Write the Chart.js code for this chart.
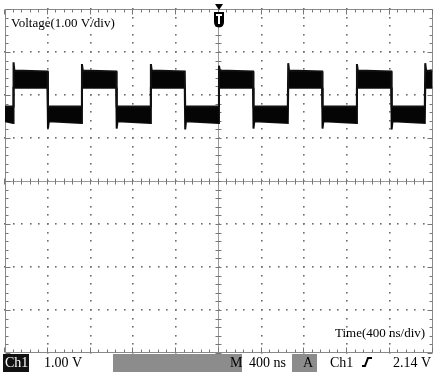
<!DOCTYPE html>
<html><head><meta charset="utf-8">
<script src="https://cdn.jsdelivr.net/npm/chart.js@4/dist/chart.umd.min.js"></script>
<style>html,body{margin:0;padding:0;background:#fff;overflow:hidden}canvas{display:block}</style>
</head><body>
<canvas id="c" width="433" height="372"></canvas>
<script>
// ---- data ----
// time of each trace vertex (ns, trigger at 0)
const timeNs = [-2000,
  -1924,-1920,-1912, -1602,-1598,-1590,
  -1284,-1280,-1272, -959,-955,-947,
  -639,-635,-627, -318,-314,-306,
  -2,2,10, 321,325,333,
  646,650,658, 967,971,979,
  1289,1293,1301, 1614,1618,1626,
  1928,1932,1940, 2000];
// upper edge of the noisy trace band (V)
const upperV = [1.73,
  1.73,2.76,2.57, 2.55,1.73,1.73,
  1.73,2.72,2.57, 2.55,1.73,1.73,
  1.73,2.72,2.57, 2.55,1.73,1.73,
  1.73,2.68,2.57, 2.55,1.73,1.73,
  1.73,2.74,2.57, 2.55,1.73,1.73,
  1.73,2.72,2.57, 2.55,1.73,1.73,
  1.73,2.74,2.57, 2.55];
// lower edge of the noisy trace band (V)
const lowerV = [1.39,
  1.35,2.17,2.17, 2.17,1.22,1.39,
  1.35,2.17,2.17, 2.17,1.22,1.39,
  1.35,2.17,2.17, 2.17,1.20,1.39,
  1.35,2.17,2.17, 2.17,1.22,1.39,
  1.35,2.17,2.17, 2.17,1.22,1.39,
  1.35,2.17,2.17, 2.17,1.20,1.39,
  1.35,2.17,2.17, 2.17];
// graticule divisions
const xDivNs = [-2000,-1600,-1200,-800,-400,0,400,800,1200,1600,2000];
const yDivV = [-4,-3,-2,-1,0,1,2,3,4];
const minorPerDiv = 5;
// texts
const voltageLabel = "Voltage(1.00 V/div)";
const timeLabel = "Time(400 ns/div)";
const statusCh = "Ch1";
const statusVolts = "1.00 V";
const statusM = "M";
const statusTime = "400 ns";
const statusA = "A";
const statusTrigCh = "Ch1";
const statusTrigLevel = "2.14 V";

const upperPts = timeNs.map((t,i)=>({x:t,y:upperV[i]}));
const lowerPts = timeNs.map((t,i)=>({x:t,y:lowerV[i]}));

const graticule = {
  id:'graticule',
  beforeDatasetsDraw(chart){
    const ctx = chart.ctx, xs = chart.scales.x, ys = chart.scales.y;
    const xMin = xDivNs[0], xMax = xDivNs[xDivNs.length-1];
    const yMin = yDivV[0], yMax = yDivV[yDivV.length-1];
    const xStep = (xDivNs[1]-xDivNs[0])/minorPerDiv, yStep = (yDivV[1]-yDivV[0])/minorPerDiv;
    const nx = (xDivNs.length-1)*minorPerDiv, ny = (yDivV.length-1)*minorPerDiv;
    ctx.save();
    ctx.fillStyle = '#6e6e6e';
    for (const t of xDivNs){
      if (t===xMin||t===xMax||t===0) continue;
      const px = Math.round(xs.getPixelForValue(t));
      for (let k=0;k<=ny;k++){ const py=Math.round(ys.getPixelForValue(yMin+k*yStep)); ctx.fillRect(px-1,py-1,1.6,1.6); }
    }
    for (const v of yDivV){
      if (v===yMin||v===yMax||v===0) continue;
      const py = Math.round(ys.getPixelForValue(v));
      for (let k=0;k<=nx;k++){ const px=Math.round(xs.getPixelForValue(xMin+k*xStep)); ctx.fillRect(px-1,py-1,1.6,1.6); }
    }
    ctx.strokeStyle = '#9a9a9a'; ctx.lineWidth = 1;
    const cx = Math.round(xs.getPixelForValue(0))-0.5, cy = Math.round(ys.getPixelForValue(0))+0.5;
    const L = chart.chartArea.left, R = chart.chartArea.right, T = chart.chartArea.top, B = chart.chartArea.bottom;
    ctx.beginPath(); ctx.moveTo(L,cy); ctx.lineTo(R,cy); ctx.moveTo(cx,T); ctx.lineTo(cx,B); ctx.stroke();
    ctx.strokeStyle = '#777';
    ctx.beginPath();
    for (let k=0;k<=nx;k++){ const px=Math.round(xs.getPixelForValue(xMin+k*xStep))-0.5; ctx.moveTo(px,cy-3); ctx.lineTo(px,cy+3); }
    for (let k=0;k<=ny;k++){ const py=Math.round(ys.getPixelForValue(yMin+k*yStep))+0.5; ctx.moveTo(cx-3,py); ctx.lineTo(cx+3,py); }
    ctx.stroke();
    const top = Math.round(T)+0.5, bot = Math.round(B)-0.5, lef = Math.round(L)+0.5, rig = Math.round(R)-0.5;
    ctx.strokeStyle = '#8a8a8a';
    ctx.beginPath(); ctx.moveTo(lef,top); ctx.lineTo(rig,top); ctx.lineTo(rig,bot); ctx.lineTo(lef,bot); ctx.closePath(); ctx.stroke();
    ctx.strokeStyle = '#777';
    ctx.beginPath();
    for (let k=0;k<=nx;k++){ const px=Math.round(xs.getPixelForValue(xMin+k*xStep))-0.5; const len = (k%minorPerDiv===0)?5:3;
      ctx.moveTo(px,top); ctx.lineTo(px,top+len); ctx.moveTo(px,bot); ctx.lineTo(px,bot-len); }
    for (let k=0;k<=ny;k++){ const py=Math.round(ys.getPixelForValue(yMin+k*yStep))+0.5; const len = (k%minorPerDiv===0)?5:3;
      ctx.moveTo(lef,py); ctx.lineTo(lef+len,py); ctx.moveTo(rig,py); ctx.lineTo(rig-len,py); }
    ctx.stroke();
    ctx.restore();
  },
  afterDraw(chart){
    const ctx = chart.ctx, xs = chart.scales.x;
    const W = chart.width, H = chart.height;
    ctx.save();
    ctx.fillStyle = '#000';
    ctx.font = '13px "Liberation Serif", "Times New Roman", serif';
    ctx.textBaseline = 'alphabetic'; ctx.textAlign = 'left';
    ctx.fillText(voltageLabel, 11, 27);
    ctx.fillText(timeLabel, 335, 337);
    const tx = Math.round(xs.getPixelForValue(0));
    ctx.fillStyle = '#000';
    ctx.beginPath(); ctx.moveTo(tx-4,4); ctx.lineTo(tx+4,4); ctx.lineTo(tx,10); ctx.closePath(); ctx.fill();
    ctx.beginPath();
    ctx.moveTo(tx-5,12); ctx.lineTo(tx+5,12); ctx.lineTo(tx+5,22);
    ctx.quadraticCurveTo(tx+5,27,tx,27.5); ctx.quadraticCurveTo(tx-5,27,tx-5,22); ctx.closePath(); ctx.fill();
    ctx.fillStyle = '#fff';
    ctx.fillRect(tx-3,14,6,2); ctx.fillRect(tx-1,14,2,10);
    const by = 354;
    ctx.fillStyle = '#fff'; ctx.fillRect(0,by,W,H-by);
    ctx.fillStyle = '#111'; ctx.fillRect(3,by,26,H-by);
    ctx.fillStyle = '#8c8c8c'; ctx.fillRect(113,by,129,H-by); ctx.fillRect(292,by,25,H-by);
    ctx.font = '14px "Liberation Serif", "Times New Roman", serif';
    ctx.fillStyle = '#fff'; ctx.fillText(statusCh, 5, 367);
    ctx.fillStyle = '#000';
    ctx.fillText(statusVolts, 44, 367);
    ctx.fillText(statusM, 230, 367);
    ctx.fillText(statusTime, 249, 367);
    ctx.fillText(statusA, 303, 367);
    ctx.fillText(statusTrigCh, 330, 367);
    ctx.fillText(statusTrigLevel, 393, 367);
    ctx.strokeStyle = '#000'; ctx.lineWidth = 2;
    ctx.beginPath(); ctx.moveTo(362,366); ctx.lineTo(365,366); ctx.lineTo(368,358); ctx.lineTo(372,358); ctx.stroke();
    ctx.restore();
  }
};

new Chart(document.getElementById('c'), {
  type: 'line',
  data: { datasets: [
    { data: upperPts, borderColor:'#111', backgroundColor:'#050505', borderWidth:2, pointRadius:0, tension:0, fill:'+1' },
    { data: lowerPts, borderColor:'#111', borderWidth:2, pointRadius:0, tension:0, fill:false }
  ]},
  options: {
    responsive:false, animation:false, devicePixelRatio:1,
    layout:{ padding:{ left:5, top:9, right:0.5, bottom:19 } },
    scales:{
      x:{ type:'linear', min:xDivNs[0], max:xDivNs[xDivNs.length-1], display:false },
      y:{ type:'linear', min:yDivV[0], max:yDivV[yDivV.length-1], display:false }
    },
    plugins:{ legend:{display:false}, tooltip:{enabled:false}, title:{display:false} }
  },
  plugins:[graticule]
});
</script>
</body></html>
